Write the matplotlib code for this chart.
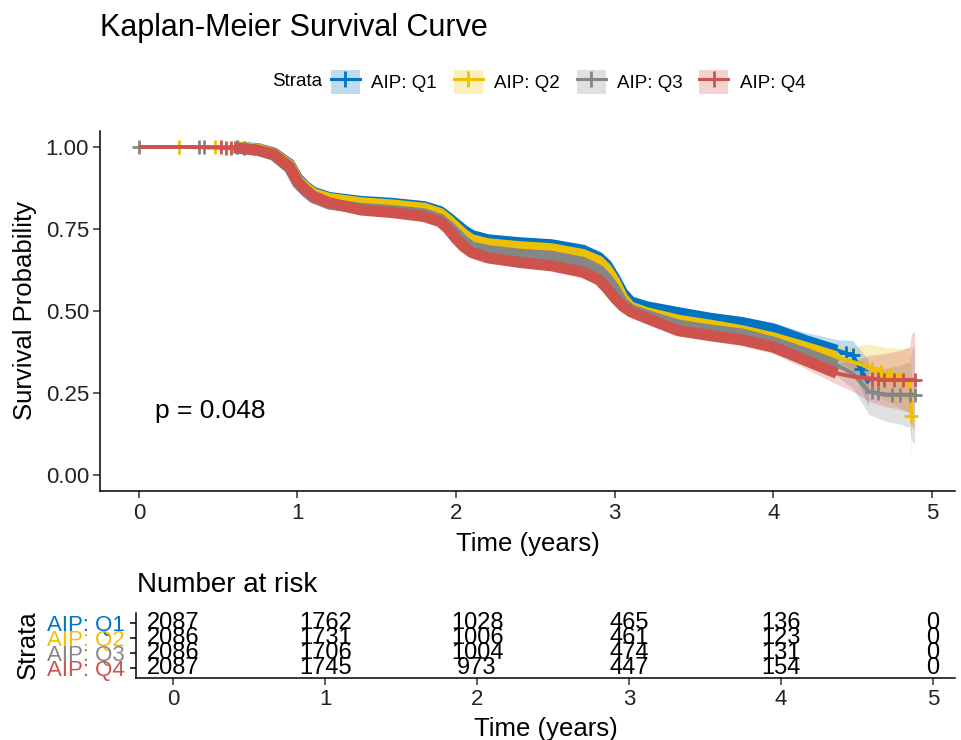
import numpy as np
import matplotlib
matplotlib.use("Agg")
import matplotlib.pyplot as plt
from matplotlib.patches import Patch
from matplotlib.lines import Line2D

plt.rcParams['font.family'] = ['Liberation Sans', 'DejaVu Sans']

# --- datos ---
strata = ['AIP: Q1', 'AIP: Q2', 'AIP: Q3', 'AIP: Q4']
colores = ['#0073C2', '#EFC000', '#868686', '#CD534C']

times = [0, 0.3, 0.6, 0.75, 0.85, 0.95, 1.0, 1.05, 1.1, 1.2, 1.4, 1.6, 1.8, 1.9, 1.95,
         2.0, 2.05, 2.1, 2.2, 2.4, 2.6, 2.8, 2.9, 2.95, 3.0, 3.05, 3.1, 3.2, 3.4, 3.6,
         3.8, 4.0, 4.2, 4.4, 4.5, 4.6, 4.7, 4.8, 4.86, 4.87, 4.89]
nan = np.nan
surv_q1 = [1, 1, 1, 0.995, 0.982, 0.948, 0.905, 0.88, 0.862, 0.846, 0.834, 0.828, 0.818, 0.803, 0.785,
           0.765, 0.745, 0.73, 0.717, 0.708, 0.702, 0.685, 0.663, 0.64, 0.60, 0.555, 0.528, 0.513, 0.495, 0.478,
           0.465, 0.445, 0.41, 0.38, 0.365, 0.28, nan, nan, nan, nan, nan]
surv_q2 = [1, 1, 1, 0.994, 0.98, 0.945, 0.90, 0.877, 0.858, 0.843, 0.83, 0.823, 0.813, 0.797, 0.778,
           0.755, 0.733, 0.717, 0.705, 0.696, 0.69, 0.672, 0.652, 0.628, 0.59, 0.54, 0.512, 0.495, 0.472, 0.457,
           0.44, 0.418, 0.39, 0.36, 0.345, 0.33, 0.31, 0.295, 0.29, 0.18, nan]
surv_q3 = [1, 1, 0.998, 0.99, 0.975, 0.935, 0.89, 0.865, 0.845, 0.826, 0.813, 0.806, 0.796, 0.78, 0.76,
           0.737, 0.712, 0.695, 0.684, 0.673, 0.667, 0.648, 0.625, 0.60, 0.567, 0.525, 0.505, 0.487, 0.457, 0.442,
           0.43, 0.405, 0.372, 0.335, 0.31, 0.255, 0.245, 0.245, 0.245, 0.245, 0.245]
surv_q4 = [1, 1, 0.998, 0.99, 0.978, 0.94, 0.895, 0.87, 0.85, 0.83, 0.808, 0.80, 0.788, 0.772, 0.75,
           0.72, 0.695, 0.678, 0.662, 0.648, 0.638, 0.618, 0.595, 0.57, 0.54, 0.515, 0.498, 0.478, 0.44, 0.425,
           0.412, 0.39, 0.35, 0.31, 0.30, 0.295, 0.29, 0.29, 0.29, 0.29, 0.29]
ci_half = [0, 0, 0, 0.003, 0.004, 0.006, 0.008, 0.008, 0.008, 0.008, 0.009, 0.009, 0.009, 0.009, 0.01,
           0.011, 0.011, 0.011, 0.011, 0.011, 0.011, 0.011, 0.011, 0.012, 0.013, 0.013, 0.013, 0.013, 0.014, 0.016,
           0.018, 0.02, 0.025, 0.033, 0.045, 0.07, 0.08, 0.09, 0.10, 0.14, 0.15]

# marcas de censura visibles (zonas poco densas)
censura_q1 = [0.62, 0.66, 4.46, 4.5, 4.55]
censura_q2 = [0.25, 0.48, 4.62, 4.68, 4.74, 4.8, 4.87]
censura_q3 = [0.0, 0.38, 0.41, 4.62, 4.66, 4.75, 4.8, 4.86, 4.89]
censura_q4 = [0.52, 0.55, 0.58, 4.62, 4.66, 4.7, 4.76, 4.82, 4.89]

riesgo_t = [0, 1, 2, 3, 4, 5]
riesgo_q1 = [2087, 1762, 1028, 465, 136, 0]
riesgo_q2 = [2086, 1731, 1006, 461, 123, 0]
riesgo_q3 = [2086, 1706, 1004, 474, 131, 0]
riesgo_q4 = [2087, 1745, 973, 447, 154, 0]
p_valor = 0.048

curvas = [surv_q1, surv_q2, surv_q3, surv_q4]
censuras = [censura_q1, censura_q2, censura_q3, censura_q4]
riesgos = [riesgo_q1, riesgo_q2, riesgo_q3, riesgo_q4]

W, H = 961, 740
fig = plt.figure(figsize=(W / 100, H / 100), dpi=100)

# --- curva principal ---
ax = fig.add_axes([100 / W, 1 - 491.4 / H, 855 / W, 360.8 / H])
t = np.array(times)
ci = np.array(ci_half)

for s, col in zip(curvas, colores):
    s = np.array(s, dtype=float)
    ok = ~np.isnan(s)
    ax.fill_between(t[ok], (s - ci)[ok], np.minimum(s + ci, 1)[ok], color=col, alpha=0.25, lw=0)

for s, col, cens in zip(curvas, colores, censuras):
    s = np.array(s, dtype=float)
    ok = ~np.isnan(s)
    ax.plot(t[ok], s[ok], color=col, lw=2.8, solid_capstyle='butt')
    # banda gruesa donde las censuras son muy densas
    denso = ok & (t >= 0.6) & (t <= 4.4)
    ax.plot(t[denso], s[denso], color=col, lw=8, solid_capstyle='butt', solid_joinstyle='round')
    cy = np.interp(cens, t[ok], s[ok])
    ax.plot(cens, cy, ls='none', marker='+', color=col, ms=10, mew=2)

ax.set_xlim(-0.245, 5.145)
ax.set_ylim(-0.05, 1.05)
ax.set_xticks([0, 1, 2, 3, 4, 5])
ax.set_yticks([0, 0.25, 0.5, 0.75, 1.0])
ax.set_yticklabels(['0.00', '0.25', '0.50', '0.75', '1.00'])
for lado in ['top', 'right']:
    ax.spines[lado].set_visible(False)
for lado in ['left', 'bottom']:
    ax.spines[lado].set_linewidth(1.1)
ax.tick_params(length=5, width=1.1, color='#333333', labelsize=16, labelcolor='#222222', pad=3)
ax.set_xlabel('Time (years)', fontsize=18.5, labelpad=6)
ax.set_ylabel('Survival Probability', fontsize=18.5, labelpad=6)
ax.text(0.1, 0.195, f'p = {p_valor}', fontsize=19, va='center', ha='left')

fig.text(100 / W, 1 - 28 / H, 'Kaplan-Meier Survival Curve', fontsize=22, va='center', ha='left')

# --- leyenda ---
fig.text(322 / W, 1 - 82 / H, 'Strata', fontsize=13.5, va='center', ha='right')
handles = [(Patch(facecolor=c, alpha=0.25, lw=0),
            Line2D([], [], color=c, lw=2.2, marker='+', ms=11, mew=2)) for c in colores]
fig.legend(handles, strata, ncol=4, loc='center', bbox_to_anchor=(568 / W, 1 - 82 / H),
           frameon=False, fontsize=13.5, handlelength=1.55, handleheight=1.55,
           handletextpad=0.6, columnspacing=0.9, borderpad=0)

# --- tabla de riesgo ---
rax = fig.add_axes([136 / W, 62 / H, 819 / W, 65 / H])
filas = [4, 3, 2, 1]
for fila, nums in zip(filas, riesgos):
    for x, n in zip(riesgo_t, nums):
        rax.text(x, fila, str(n), ha='center', va='center', fontsize=17)
rax.set_xlim(-0.245, 5.145)
rax.set_ylim(0.35, 4.65)
rax.set_xticks(riesgo_t)
rax.set_yticks(filas)
rax.set_yticklabels(strata)
for lbl, col in zip(rax.get_yticklabels(), colores):
    lbl.set_color(col)
for lado in ['top', 'right']:
    rax.spines[lado].set_visible(False)
for lado in ['left', 'bottom']:
    rax.spines[lado].set_linewidth(1.1)
rax.tick_params(axis='y', length=4, width=1.1, labelsize=16, pad=4)
rax.tick_params(axis='x', length=5, width=1.1, color='#333333', labelsize=16, labelcolor='#222222', pad=3)
rax.set_xlabel('Time (years)', fontsize=18.5, labelpad=5)
fig.text(137 / W, 1 - 585 / H, 'Number at risk', fontsize=20, va='center', ha='left')
fig.text(28 / W, 1 - 645 / H, 'Strata', fontsize=18.5, va='center', ha='center', rotation=90)

fig.savefig('out.png', dpi=100)
